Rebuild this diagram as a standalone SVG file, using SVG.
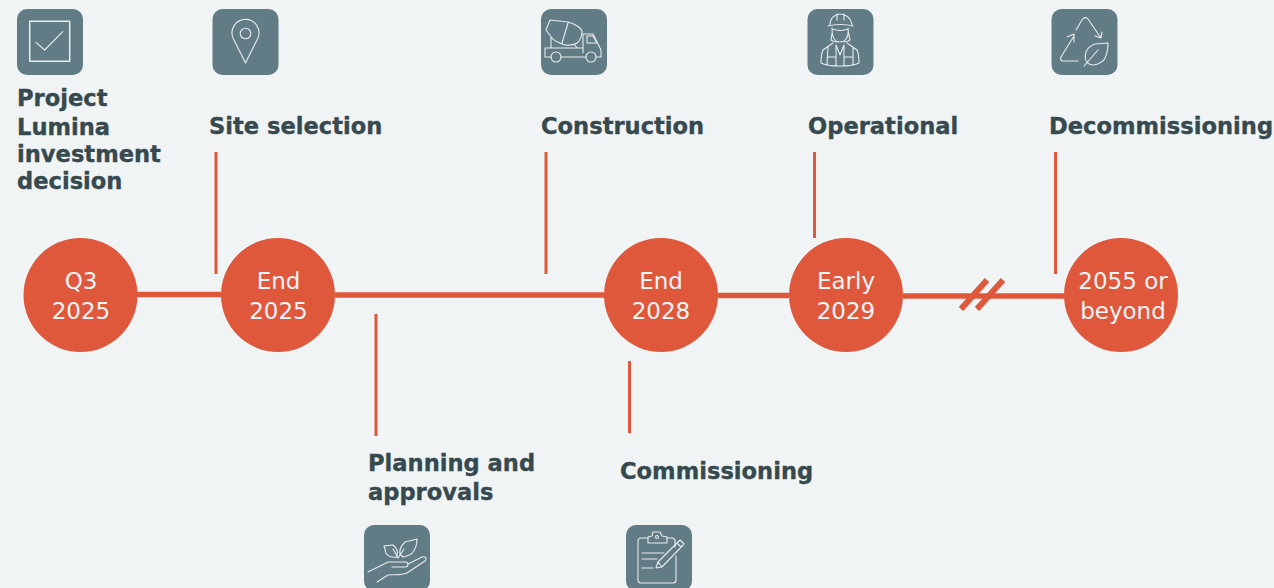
<svg xmlns="http://www.w3.org/2000/svg" width="1274" height="588" viewBox="0 0 1274 588">
<style>
.ic{fill:#627c85}
.g{fill:none;stroke:#e6ecee;stroke-width:1.1;stroke-linecap:round;stroke-linejoin:round}
.l{fill:#36494e;stroke:#36494e;stroke-width:.35;font-family:"DejaVu Sans",sans-serif;font-weight:700;font-size:22.6px}
.d{fill:#f0f4f5;font-family:"DejaVu Sans",sans-serif;font-size:23px;text-anchor:middle}
.c{fill:#e0583c}
.s{stroke:#e0583c;stroke-width:3;fill:none}
</style>
<rect width="1274" height="588" fill="#f0f4f5"/>
<g id="connectors">
<path d="M137 294.500H221M335 295H605M718 295.500H789M903 296H1065" stroke="#e0583c" stroke-width="5.500" fill="none"/>
<path class="s" d="M216 152V274M546 152V274M814.500 152V238M1055.500 152V274M376 314V436M629.500 361V433"/>
<path d="M961 309L987 280M977 309L1003 280" stroke="#e0583c" stroke-width="6" fill="none"/>
</g>
<g id="n1">
<rect class="ic" x="17" y="9" width="66" height="66" rx="10"/>
<rect class="g" x="29.700" y="21.300" width="40" height="40" style="stroke-width:1.500"/>
<path class="g" d="M36 42.300L44.700 50L62.700 31.700"/>
<text class="l"><tspan x="17" y="106">Project</tspan><tspan x="17" y="135">Lumina</tspan><tspan x="17" y="162">investment</tspan><tspan x="17" y="189">decision</tspan></text>
<circle class="c" cx="80.500" cy="295" r="57"/>
<text class="d"><tspan x="81" y="289">Q3</tspan><tspan x="81" y="319">2025</tspan></text>
</g>
<g id="n2">
<rect class="ic" x="212.500" y="9" width="66" height="66" rx="10"/>
<path class="g" d="M245.500 63L233 38A13.500 13.500 0 1 1 258 38Z"/>
<circle class="g" cx="245.500" cy="33.500" r="5.300"/>
<text class="l" x="209" y="134">Site selection</text>
<circle class="c" cx="278" cy="295" r="57"/>
<text class="d"><tspan x="278.500" y="289">End</tspan><tspan x="278.500" y="319">2025</tspan></text>
</g>
<g id="n3">
<rect class="ic" x="364" y="525" width="66" height="66" rx="10"/>
<path class="g" d="M368 572L388 562H405C409 562 409 567 405 567L392 567M408 564L422 557C426 556 427 559 425 561L407 573C400 576 393 574 388 575L377 582"/>
<path class="g" d="M384 546L393 545C397 548 398 553 397 557C392 558 387 556 386 553ZM417 539L405 542C401 546 399 550 400 554L403 557C408 556 412 554 413 552C416 548 417 544 417 539ZM393 549L398 558L404 549"/>
<text class="l"><tspan x="368" y="471">Planning and</tspan><tspan x="368" y="500">approvals</tspan></text>
</g>
<g id="n4">
<rect class="ic" x="541" y="9" width="66" height="66" rx="10"/>
<path class="g" d="M550 20L568 22C576 24 583 29 582 33C581 38 579 42 577 43C573 46 569 45 565 45C559 43 554 41 552 38L546 30ZM568 23L562 43M551 37V48M575 45L577 48M545 48H583M545 48V57H551M583 53V34H593L601 50V57H596M561 57H586M587 36V43H597L593 36Z"/>
<circle class="g" cx="556" cy="57" r="5"/>
<circle class="g" cx="591" cy="57" r="5"/>
<text class="l" x="541" y="134">Construction</text>
</g>
<g id="n5">
<circle class="c" cx="661" cy="295" r="57"/>
<text class="d"><tspan x="661" y="289">End</tspan><tspan x="661" y="319">2028</tspan></text>
</g>
<g id="n6">
<rect class="ic" x="626" y="525" width="66" height="66" rx="10"/>
<path class="g" d="M648 538H641C639 538 638 539 638 541V580C638 582 639 583 641 583H673C675 583 676 582 676 580V556M675 547V541C675 539 674 538 672 538H667"/>
<path class="g" d="M648 543V537L652 536L653 532H660L662 536L667 537V543Z"/>
<circle class="g" cx="657" cy="537" r="1.500"/>
<path class="g" d="M642 553H664M642 559H657M642 568H653M656 568L658 562L680 540L684 544L662 567ZM658 562L662 567M677 543L681 547"/>
<text class="l" x="620" y="479">Commissioning</text>
</g>
<g id="n7">
<rect class="ic" x="807.500" y="9" width="66" height="66" rx="10"/>
<path class="g" d="M830 25C830 18 835 14 840 14C846 14 851 18 852 25M828 26C835 24 846 24 853 26M837 14V20M844 14V20M832 28C833 34 831 38 831 40C834 42 836 42 837 42M848 28C848 34 850 38 850 40C847 42 845 42 844 42M832 29C838 31 843 31 848 29C849 37 845 42 840 42C835 42 832 37 832 29M833 43L823 50C821 54 821 58 821 63C828 67 852 67 859 63C859 58 859 54 857 50L847 43M828 47L827 65M836 45V66M844 45V66M853 47V65M827 57H836M844 57H853M836 45L840 55L844 45"/>
<text class="l" x="808" y="134">Operational</text>
</g>
<g id="n8">
<circle class="c" cx="846" cy="295" r="57"/>
<text class="d"><tspan x="846" y="289">Early</tspan><tspan x="846" y="319">2029</tspan></text>
</g>
<g id="n9">
<rect class="ic" x="1051.500" y="9" width="66" height="66" rx="10"/>
<path class="g" d="M1076 30L1082 20C1084 17 1086 17 1088 19L1101 38M1095 36L1101 38L1102 32M1074 36L1061 57C1060 60 1061 61 1063 61H1078M1067 37L1074 34L1074 42"/>
<path class="g" d="M1108 43L1095 44C1090 46 1087 49 1086 52C1085 56 1085 60 1087 62C1089 65 1091 65 1094 65C1099 64 1104 61 1105 58C1107 54 1108 49 1108 43ZM1084 66L1098 50"/>
<text class="l" x="1049" y="134">Decommissioning</text>
</g>
<g id="n10">
<circle class="c" cx="1121" cy="295" r="57"/>
<text class="d"><tspan x="1123" y="289">2055 or</tspan><tspan x="1123" y="319">beyond</tspan></text>
</g>
</svg>
